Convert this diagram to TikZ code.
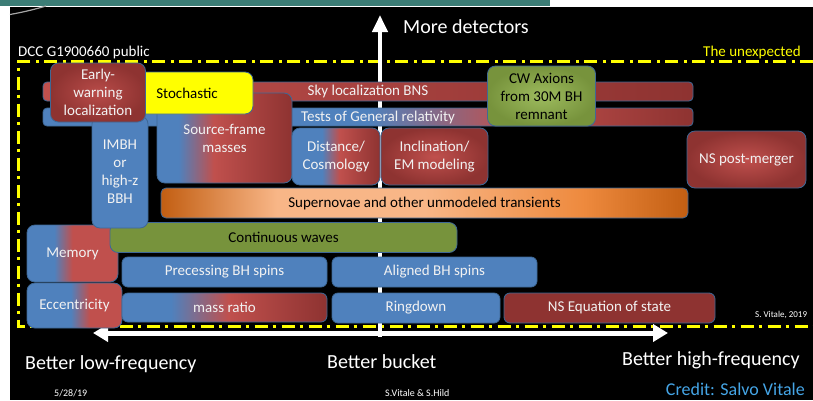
\documentclass[tikz,border=0pt]{standalone}
\usepackage{fontspec}
\setmainfont{Carlito}
\usetikzlibrary{arrows.meta}

\definecolor{boxblue}{HTML}{4F81BD}
\definecolor{boxred}{HTML}{C0504D}
\definecolor{boxdark}{HTML}{8E3331}
\definecolor{boxline}{HTML}{3E6896}
\definecolor{boxgreen}{HTML}{77933C}
\definecolor{lightgreen}{HTML}{9DBB5E}
\definecolor{darkorange}{HTML}{C25E12}
\definecolor{lightorange}{HTML}{F8B687}
\definecolor{midorange}{HTML}{EE8A3E}
\definecolor{unexpyellow}{HTML}{FFFF00}
\definecolor{topteal}{HTML}{3C7D76}
\definecolor{creditblue}{HTML}{45A5E6}
\definecolor{boxtext}{HTML}{F2F2F2}

% blue -> red blends, left edge of the box at 25bp, right edge at 75bp
\pgfdeclarehorizontalshading{grshade}{100bp}{color(0bp)=(boxblue); color(50bp)=(boxblue); color(61bp)=(boxred); color(75bp)=(boxdark); color(100bp)=(boxdark)}
\pgfdeclarehorizontalshading{srcshade}{100bp}{color(0bp)=(boxblue); color(33bp)=(boxblue); color(46bp)=(boxred); color(75bp)=(boxdark); color(100bp)=(boxdark)}
\pgfdeclarehorizontalshading{distshade}{100bp}{color(0bp)=(boxblue); color(42bp)=(boxblue); color(52bp)=(boxred); color(75bp)=(boxdark); color(100bp)=(boxdark)}
\pgfdeclarehorizontalshading{memshade}{100bp}{color(0bp)=(boxblue); color(40bp)=(boxblue); color(50bp)=(boxred); color(100bp)=(boxred)}
\pgfdeclarehorizontalshading{eccshade}{100bp}{color(0bp)=(boxblue); color(48bp)=(boxblue); color(58bp)=(boxred); color(100bp)=(boxred)}
\pgfdeclarehorizontalshading{mrshade}{100bp}{color(0bp)=(boxblue); color(37bp)=(boxblue); color(51bp)=(boxred); color(75bp)=(boxdark); color(100bp)=(boxdark)}
\pgfdeclarehorizontalshading{snshade}{100bp}{color(0bp)=(darkorange); color(25bp)=(darkorange); color(36bp)=(lightorange); color(50bp)=(lightorange); color(65bp)=(midorange); color(75bp)=(darkorange); color(100bp)=(darkorange)}

\tikzset{
  gwbox/.style={draw=boxline, line width=0.8pt, rounded corners=8pt, inner sep=0pt,
    align=center, text=boxtext, font=\fontsize{15}{18}\selectfont},
  strip/.style={gwbox, rounded corners=4pt},
  unexp/.style={unexpyellow, line width=3pt, dash pattern=on 13pt off 5pt on 3pt off 6pt},
  axis arrow/.style={white, line width=4pt},
  label/.style={inner sep=0pt, anchor=west}
}

\begin{document}
\begin{tikzpicture}[x=1pt, y=-1pt]
  \useasboundingbox (0,0) rectangle (813,400);
  \fill[white] (0,0) rectangle (813,400);
  \fill[black] (10,7) rectangle (813,400);
  \fill[topteal] (0,0) rectangle (550,5.5);
  \draw[gray!70, line width=1.2pt] (10,14.5) .. controls (24,12) and (36,9) .. (46,6);

  % the unexpected
  \draw[unexp] (813,61.5) -- (18,61.5) -- (18,326) -- (813,326);
  \node[label, font=\fontsize{15}{18}\selectfont, text=white] (dcc) at (18,52) {DCC G1900660 public};
  \node[label, font=\fontsize{15}{18}\selectfont, text=unexpyellow] (unexpected) at (703,52) {The unexpected};

  % axes
  \coordinate (vbot) at (380,337);
  \coordinate (vtop) at (380,15);
  \coordinate (hlow) at (93,333);
  \coordinate (hhigh) at (668,333);
  \draw[axis arrow, -{Triangle[width=15pt,length=17pt]}] (vbot) -- (vtop);
  \draw[axis arrow, line width=5pt, {Triangle[width=17pt,length=15pt]}-{Triangle[width=17pt,length=15pt]}] (hlow) -- (hhigh);
  \node[label, font=\fontsize{20}{24}\selectfont, text=white] (more) at (403,27) {More detectors};

  % bars
  \node[strip, left color=boxred, right color=boxdark, minimum width=650pt, minimum height=19pt] (sky) at (368,91.5) {Sky localization BNS};
  \node[strip, shading=grshade, minimum width=650pt, minimum height=18pt] (gr) at (368,117) {\hspace*{20pt}Tests of General relativity};

  % lower left
  \node[gwbox, shading=memshade, minimum width=91pt, minimum height=57pt] (memory) at (72.5,253.5) {Memory};
  \node[gwbox, left color=boxgreen, middle color=lightgreen, right color=boxgreen, text=black, minimum width=347pt, minimum height=30pt] (cw) at (283.5,237.5) {Continuous waves};
  \node[gwbox, fill=boxblue, minimum width=56pt, minimum height=112pt] (imbh) at (120,172) {IMBH\\or\\high-z\\BBH};

  % middle
  \node[gwbox, shading=srcshade, minimum width=135pt, minimum height=90pt] (source) at (224.5,138) {Source-frame\\masses};
  \node[gwbox, fill=unexpyellow, text=black, minimum width=132pt, minimum height=42pt] (stoch) at (187,93) {Stochastic};
  \node[gwbox, inner color=boxred!85!boxdark, outer color=boxdark, minimum width=95pt, minimum height=59pt] (early) at (98,92.5) {Early-\\warning\\localization};
  \node[gwbox, shading=distshade, minimum width=88pt, minimum height=57pt] (distance) at (336,156.5) {Distance/\\Cosmology};
  \node[gwbox, inner color=boxred, outer color=boxdark, minimum width=107pt, minimum height=57pt] (incl) at (434.5,156.5) {Inclination/\\EM modeling};
  \node[gwbox, inner color=lightgreen, outer color=boxgreen, text=black, minimum width=108pt, minimum height=60pt] (axions) at (541.5,96) {CW Axions\\from 30M BH\\remnant};
  \node[gwbox, inner color=boxred, outer color=boxdark, minimum width=119pt, minimum height=57pt] (postmerger) at (746.5,159.5) {NS post-merger};
  \node[gwbox, rounded corners=5pt, shading=snshade, text=black, minimum width=527pt, minimum height=30pt] (sn) at (424.5,203) {Supernovae and other unmodeled transients};

  % bottom rows
  \node[gwbox, shading=eccshade, minimum width=95pt, minimum height=45pt] (ecc) at (74.5,305.5) {Eccentricity};
  \node[gwbox, rounded corners=6pt, fill=boxblue, minimum width=205pt, minimum height=30pt] (precess) at (224.5,272) {Precessing BH spins};
  \node[gwbox, rounded corners=6pt, fill=boxblue, minimum width=205pt, minimum height=30pt] (aligned) at (434.5,272) {Aligned BH spins};
  \node[gwbox, rounded corners=6pt, shading=mrshade, minimum width=205pt, minimum height=29pt] (massratio) at (224.5,307.5) {mass ratio};
  \node[gwbox, rounded corners=6pt, fill=boxblue, minimum width=168pt, minimum height=30pt] (ringdown) at (416,308) {Ringdown};
  \node[gwbox, rounded corners=6pt, left color=boxdark, middle color=boxred, right color=boxdark, minimum width=211pt, minimum height=30pt] (eos) at (609.5,308) {NS Equation of state};
  \node[label, font=\fontsize{9}{11}\selectfont, text=white] (vitale) at (755,315) {S. Vitale, 2019};

  % footer
  \node[label, font=\fontsize{20}{24}\selectfont, text=white] (lowf) at (25,364) {Better low-frequency};
  \node[label, font=\fontsize{20}{24}\selectfont, text=white] (bucket) at (327,362) {Better bucket};
  \node[label, font=\fontsize{20}{24}\selectfont, text=white] (highf) at (622,360) {Better high-frequency};
  \node[label, font=\fontsize{10}{12}\selectfont, text=white] (date) at (54,393) {5/28/19};
  \node[label, font=\fontsize{10}{12}\selectfont, text=white] (authors) at (385,393) {S.Vitale \& S.Hild};
  \node[label, anchor=east, font=\fontsize{18}{22}\selectfont, text=creditblue] (credit) at (805,389) {Credit: Salvo Vitale};
\end{tikzpicture}
\end{document}
